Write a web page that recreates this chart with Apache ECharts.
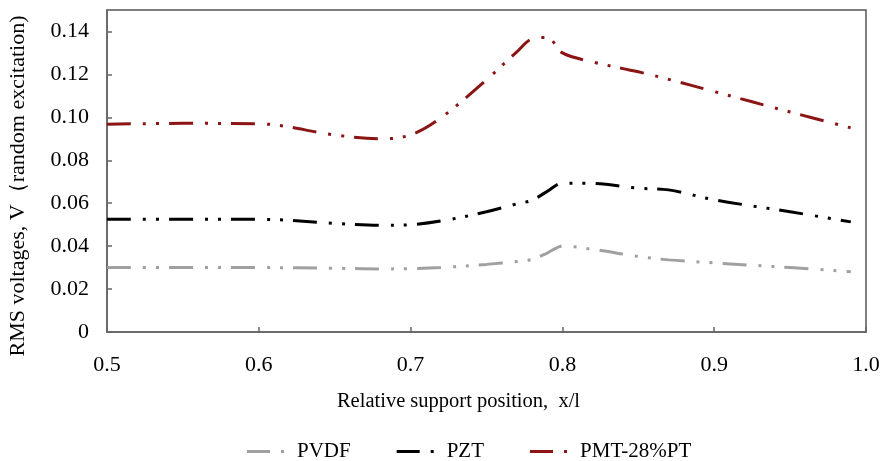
<!DOCTYPE html>
<html>
<head>
<meta charset="utf-8">
<script src="https://cdn.jsdelivr.net/npm/echarts@6/dist/echarts.min.js"></script>
<style>
html,body{margin:0;padding:0;background:#fff;}
#chart{width:885px;height:461px;}
</style>
</head>
<body>
<div id="chart"></div>
<script>
// Relative support position x/l
const xValues = [0.5, 0.55, 0.6, 0.65, 0.68, 0.7, 0.72, 0.75, 0.77, 0.78, 0.79, 0.8, 0.82, 0.85, 0.87, 0.9, 0.95, 0.99];
// RMS voltages (V)
const pvdf = [0.0300, 0.0300, 0.0300, 0.0297, 0.0294, 0.0295, 0.0300, 0.0315, 0.0328, 0.0338, 0.0368, 0.0400, 0.0385, 0.0352, 0.0336, 0.0322, 0.0300, 0.0281];
const pzt  = [0.0525, 0.0525, 0.0525, 0.0506, 0.0497, 0.0500, 0.0517, 0.0560, 0.0597, 0.0614, 0.0655, 0.0693, 0.0692, 0.0670, 0.0662, 0.0616, 0.0560, 0.0513];
const pmt  = [0.0968, 0.0972, 0.0970, 0.0918, 0.0900, 0.0918, 0.0998, 0.1175, 0.1305, 0.1365, 0.1372, 0.1300, 0.1258, 0.1212, 0.1177, 0.1120, 0.1025, 0.0951];
const seriesNames = ['PVDF', 'PZT', 'PMT-28%PT'];
const seriesColors = ['#a0a0a0', '#000000', '#8b1414'];

const font = 'Liberation Serif';
const pair = arr => xValues.map((x, i) => [x, arr[i]]);
const dashPattern = [24, 12, 3, 10, 3, 10];
const legendIcon = 'path://M0,0H23V3H0Z M34,0H37V3H34Z';

const chart = echarts.init(document.getElementById('chart'));
chart.setOption({
  animation: false,
  backgroundColor: '#ffffff',
  textStyle: { fontFamily: font },
  grid: {
    left: 107, right: 19, top: 10, bottom: 129,
    containLabel: false, outerBoundsMode: 'none',
    show: true, borderColor: '#555', borderWidth: 1.5
  },
  legend: {
    left: 242, top: 436,
    itemWidth: 37, itemHeight: 3, itemGap: 46,
    icon: legendIcon,
    textStyle: { fontFamily: font, fontSize: 21, color: '#000', padding: [0, 0, 0, 8] },
    data: seriesNames
  },
  xAxis: {
    type: 'value', min: 0.5, max: 1.0, interval: 0.1,
    name: 'Relative support position,  x/l',
    nameLocation: 'middle', nameGap: 59,
    nameTextStyle: { fontFamily: font, fontSize: 20.5, color: '#000', padding: [0, 56, 0, 0] },
    axisLine: { lineStyle: { color: '#666', width: 1.5 } },
    axisTick: { inside: true, length: 5, lineStyle: { color: '#666', width: 1.5 } },
    axisLabel: { fontFamily: font, fontSize: 22, color: '#000', margin: 22, formatter: v => v.toFixed(1) },
    splitLine: { show: false }
  },
  yAxis: {
    type: 'value', min: 0, max: 0.15, interval: 0.02,
    name: 'RMS voltages, V（random excitation)',
    nameLocation: 'middle', nameGap: 78,
    nameTextStyle: { fontFamily: font, fontSize: 22, color: '#000', padding: [0, 30, 0, 0] },
    axisLine: { lineStyle: { color: '#666', width: 1.5 } },
    axisTick: { inside: true, length: 5, lineStyle: { color: '#666', width: 1.5 } },
    axisLabel: {
      fontFamily: font, fontSize: 22, color: '#000', margin: 18, showMaxLabel: false,
      formatter: v => (v === 0 ? '0' : (Math.abs(v - 0.15) < 1e-9 ? '' : v.toFixed(2)))
    },
    splitLine: { show: false }
  },
  series: [pvdf, pzt, pmt].map((arr, i) => ({
    name: seriesNames[i],
    type: 'line',
    data: pair(arr),
    smooth: 0.35,
    symbol: 'none',
    color: seriesColors[i],
    lineStyle: { color: seriesColors[i], width: 3, type: dashPattern, cap: 'butt' }
  }))
});
</script>
</body>
</html>
